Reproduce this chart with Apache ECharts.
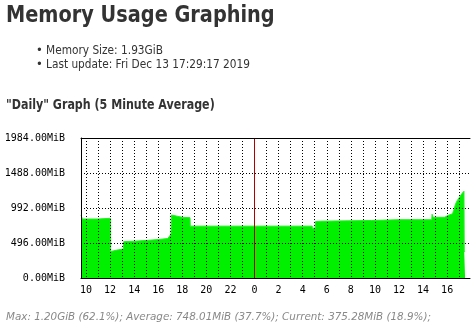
<!DOCTYPE html>
<html>
<head>
<meta charset="utf-8">
<title>Memory Usage Graphing</title>
<script src="https://cdn.jsdelivr.net/npm/echarts@6/dist/echarts.min.js"></script>
<style>
  html, body { margin: 0; padding: 0; background: #fff; }
  #chart { width: 471px; height: 329px; }
</style>
</head>
<body>
<div id="chart"></div>
<script>
// time in hours (24+ = next day), memory in MiB
const hours = [9.585, 9.66, 9.70, 11.0, 12.04, 12.05, 12.3, 12.7, 13.11, 13.13, 14.0, 15.0, 16.0, 16.8,
  17.06, 17.10, 17.25, 18.0, 18.64, 18.66, 19.18, 19.20, 19.28, 24.0, 28.79, 28.80, 29.05, 29.07,
  29.50, 29.55, 29.62, 33.7, 33.75, 36.0, 38.72, 38.75, 38.82, 39.80, 40.05, 40.45, 40.55, 40.70,
  40.85, 41.05, 41.25, 41.40, 41.42, 41.49]
const memUsed = [893, 893, 836, 836, 846, 373, 385, 400, 410, 515, 522, 532, 545, 560,
  620, 893, 870, 860, 855, 735, 735, 755, 735, 735, 735, 705, 705, 800,
  805, 822, 810, 815, 826, 826, 826, 903, 860, 860, 885, 910, 960, 1050,
  1100, 1150, 1200, 1229, 375, 375]
const labelHours = [10, 12, 14, 16, 18, 20, 22, 24, 26, 28, 30, 32, 34, 36, 38, 40]
const gridHours = []
for (let h = 10; h <= 41; h++) gridHours.push(h)
const midnight = 24

const chart = echarts.init(document.getElementById('chart'))
const monoFont = '"DejaVu Sans Mono", monospace'
const dotted = { color: '#000', width: 1, type: [1, 2] }

// DejaVu Sans squeezed a bit to look like the narrower original face
function label(text, x, y, font, fill, sx) {
  return {
    type: 'text', x: x, y: y, scaleX: sx || 1,
    style: { text: text, x: 0, y: 0, verticalAlign: 'middle', font: font, fill: fill }
  }
}

chart.setOption({
  animation: false,
  graphic: [
    label('Memory Usage Graphing', 6, 16, 'bold 23px "DejaVu Sans"', '#333', 0.84),
    label('•', 36, 51, '11.5px "DejaVu Sans"', '#333'),
    label('Memory Size: 1.93GiB', 46, 51, '11.5px "DejaVu Sans"', '#333', 0.92),
    label('•', 36, 65, '11.5px "DejaVu Sans"', '#333'),
    label('Last update: Fri Dec 13 17:29:17 2019', 46, 65, '11.5px "DejaVu Sans"', '#333', 0.92),
    label('"Daily" Graph (5 Minute Average)', 6, 105, 'bold 13.5px "DejaVu Sans"', '#333', 0.82),
    label('Max: 1.20GiB (62.1%); Average: 748.01MiB (37.7%); Current: 375.28MiB (18.9%);',
      6, 317, 'italic 10.35px "DejaVu Sans"', '#888')
  ],
  grid: { left: 81, right: 1, top: 138, bottom: 51 },
  xAxis: [{
    type: 'value',
    min: 9.585,
    max: 41.9,
    z: 5,
    axisLine: { show: true, lineStyle: { color: '#000', width: 1 } },
    axisTick: { show: false, customValues: gridHours },
    axisLabel: {
      customValues: labelHours,
      formatter: v => String(v % 24),
      color: '#000',
      fontFamily: monoFont,
      fontSize: 10,
      margin: 7
    },
    splitLine: { show: true, lineStyle: dotted }
  }, {
    type: 'value',
    position: 'top',
    min: 9.585,
    max: 41.9,
    z: 5,
    axisLine: { show: true, onZero: false, lineStyle: { color: '#000', width: 1 } },
    axisTick: { show: false },
    axisLabel: { show: false },
    splitLine: { show: false }
  }],
  yAxis: {
    type: 'value',
    min: 0,
    max: 1984,
    interval: 496,
    z: 5,
    axisLine: { show: true, lineStyle: { color: '#000', width: 1 } },
    axisTick: { show: false },
    axisLabel: {
      formatter: v => v.toFixed(2) + 'MiB',
      color: '#000',
      fontFamily: monoFont,
      fontSize: 10,
      margin: 16
    },
    splitLine: { show: true, lineStyle: dotted }
  },
  series: [{
    type: 'line',
    data: hours.map((h, i) => [h, memUsed[i]]),
    symbol: 'none',
    lineStyle: { width: 1, color: '#22f022' },
    areaStyle: { color: '#00f000', opacity: 1 },
    markLine: {
      silent: true,
      symbol: 'none',
      label: { show: false },
      lineStyle: { color: '#b00000', width: 1, type: 'solid' },
      data: [{ xAxis: midnight }]
    }
  }]
})
</script>
</body>
</html>
